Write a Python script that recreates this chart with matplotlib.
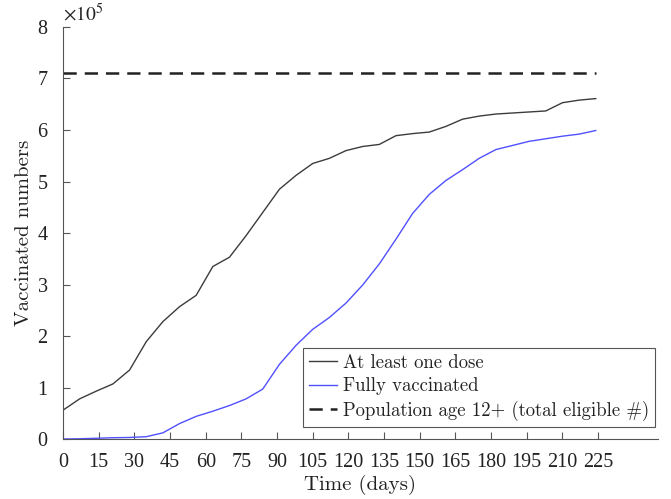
import matplotlib
matplotlib.use('Agg')
import matplotlib.pyplot as plt
from matplotlib.ticker import FuncFormatter

# weekly counts (days since start)
days = list(range(0, 225, 7))
one_dose = [0.56, 0.78, 0.93, 1.07, 1.34, 1.89, 2.28, 2.57, 2.79, 3.35, 3.53,
            3.95, 4.40, 4.85, 5.12, 5.35, 5.45, 5.60, 5.68, 5.72, 5.89, 5.93,
            5.96, 6.07, 6.21, 6.27, 6.31, 6.33, 6.35, 6.37, 6.53, 6.58, 6.61]
fully = [0.0, 0.005, 0.015, 0.025, 0.03, 0.045, 0.12, 0.30, 0.44, 0.54, 0.65,
         0.78, 0.97, 1.45, 1.82, 2.13, 2.36, 2.64, 2.99, 3.40, 3.88, 4.38,
         4.75, 5.02, 5.23, 5.45, 5.62, 5.70, 5.78, 5.83, 5.88, 5.92, 5.99]
one_dose = [v * 1e5 for v in one_dose]
fully = [v * 1e5 for v in fully]
eligible = 711000
xticks = list(range(0, 226, 15))
yticks = [i * 1e5 for i in range(9)]

labels = ['At least one dose', 'Fully vaccinated',
          'Population age 12+ (total eligible #)']

tick_font = 'Liberation Serif'
label_font = 'cmr10'

fig = plt.figure(figsize=(6.71, 4.99), dpi=100)
ax = fig.add_axes([0.0939, 0.1202, 0.8861, 0.8257])

ax.plot(days, one_dose, color='#3c3c3c', lw=1.0, label=labels[0])
ax.plot(days, fully, color='#5050ff', lw=1.0, label=labels[1])
ax.plot([days[0], days[-1]], [eligible, eligible], color='#222222', lw=1.8,
        ls=(0, (5.3, 3.2)), label=labels[2])

ax.set_xlim(0, 250)
ax.set_ylim(0, 8e5)
ax.set_xticks(xticks)
ax.set_yticks(yticks)
ax.yaxis.set_major_formatter(FuncFormatter(lambda v, p: '%d' % round(v / 1e5)))

for s in ['top', 'right']:
    ax.spines[s].set_visible(False)
for s in ['left', 'bottom']:
    ax.spines[s].set_color('#555555')
    ax.spines[s].set_linewidth(0.8)
ax.tick_params(direction='in', length=5, width=0.8, color='#555555',
               labelsize=14.5, labelcolor='#222222')
ax.tick_params(axis='x', pad=10)
ax.tick_params(axis='y', pad=11)
for lab in ax.get_xticklabels() + ax.get_yticklabels():
    lab.set_family(tick_font)

ax.text(0.0, 1.005, r'$\times 10^5$', transform=ax.transAxes, fontsize=14,
        color='#222222', family=tick_font, va='bottom', ha='left',
        math_fontfamily='stix')

ax.set_xlabel('Time (days)', family=label_font, fontsize=15, color='#222222',
              labelpad=2)
ax.set_ylabel('Vaccinated numbers', family=label_font, fontsize=15,
              color='#222222', labelpad=3)

leg = ax.legend(loc='lower right', bbox_to_anchor=(0.995, 0.03),
                prop={'family': label_font, 'size': 13.5}, fancybox=False,
                framealpha=1, edgecolor='#555555', handlelength=1.5,
                handletextpad=0.3, borderpad=0.3, labelspacing=0.3,
                borderaxespad=0)
leg.get_frame().set_linewidth(0.8)
for t in leg.get_texts():
    t.set_color('#222222')

fig.savefig('out.png', dpi=100)
